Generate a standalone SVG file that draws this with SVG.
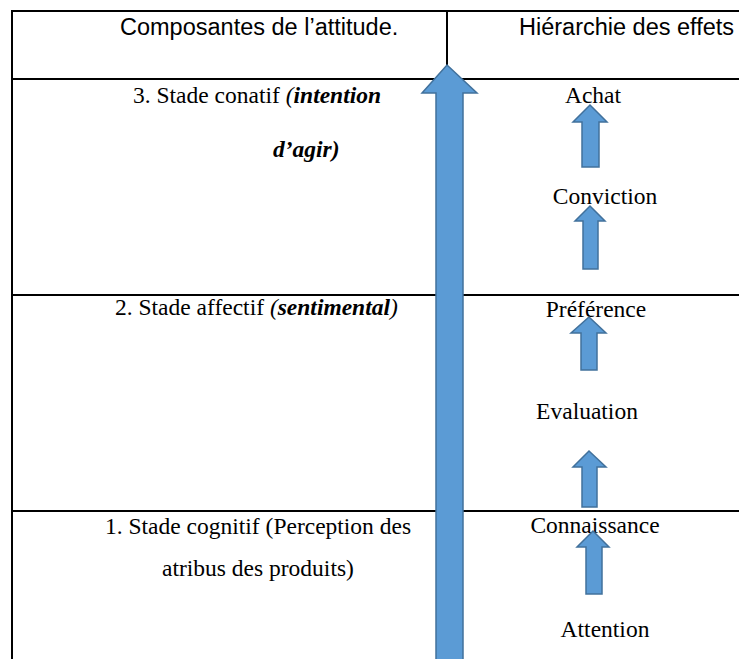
<svg xmlns="http://www.w3.org/2000/svg" width="739" height="659" viewBox="0 0 739 659">
<style>
.grid{stroke:#000;stroke-width:2;fill:none}
.hd{font-family:"Liberation Sans",Arial,sans-serif;font-size:23.5px;fill:#000}
.tx{font-family:"Liberation Serif","Times New Roman",serif;font-size:23.5px;fill:#000}
.c{text-anchor:middle}
.bi{font-style:italic;font-weight:bold}
.it{font-style:italic}
.arr{fill:#5B9BD5;stroke:#41719C;stroke-width:1.5}
</style>
<rect width="739" height="659" fill="#fff"/>
<g id="table">
<path class="grid" d="M12 659V11H739M12 79H739M12 295H739M12 511H739M447 11V659"/>
</g>
<g id="header-left"><text class="hd" x="120" y="35">Composantes de l’attitude.</text></g>
<g id="header-right"><text class="hd" x="519" y="35">Hiérarchie des effets</text></g>
<g id="stage3">
<text class="tx" x="133" y="103">3. Stade conatif <tspan class="it">(</tspan><tspan class="bi">intention</tspan></text>
<text class="tx bi" x="273" y="157">d’agir)</text>
</g>
<g id="stage2">
<text class="tx" x="115" y="315">2. Stade affectif <tspan class="it">(</tspan><tspan class="bi">sentimental</tspan><tspan class="it">)</tspan></text>
</g>
<g id="stage1">
<text class="tx" x="105" y="534">1. Stade cognitif (Perception des</text>
<text class="tx" x="162" y="576">atribus des produits)</text>
</g>
<g id="achat"><text class="tx c" x="593" y="103">Achat</text></g>
<g id="conviction"><text class="tx c" x="605" y="204">Conviction</text></g>
<g id="preference"><text class="tx c" x="596" y="317">Préférence</text></g>
<g id="evaluation"><text class="tx c" x="587" y="419">Evaluation</text></g>
<g id="connaissance"><text class="tx c" x="595" y="533">Connaissance</text></g>
<g id="attention"><text class="tx c" x="605" y="637">Attention</text></g>
<g id="connectors">
<path id="big-arrow" class="arr" d="M447 65L477 93H463V662H436V93H422Z"/>
<path class="arr" d="M590 105L607 122H599V167H582V122H573Z"/>
<path class="arr" d="M590 206L605 221H598V269H583V221H575Z"/>
<path class="arr" d="M589 317L606 333H597V370H581V333H571Z"/>
<path class="arr" d="M589 451L606 467H597V507H582V467H573Z"/>
<path class="arr" d="M593 531L609 547H602V594H586V547H577Z"/>
</g>
</svg>
